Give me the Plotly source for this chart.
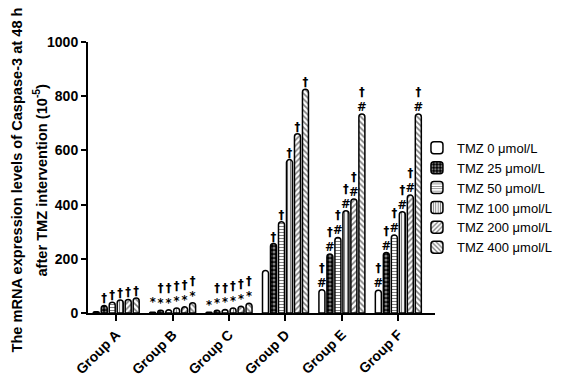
import plotly.graph_objects as go

groups = ["Group A", "Group B", "Group C", "Group D", "Group E", "Group F"]
series_names = ["TMZ 0 μmol/L", "TMZ 25 μmol/L", "TMZ 50 μmol/L",
                "TMZ 100 μmol/L", "TMZ 200 μmol/L", "TMZ 400 μmol/L"]

# values per dose (series), across groups A..F
tmz0 = [5, 3, 3, 157, 86, 84]
tmz25 = [28, 10, 10, 256, 218, 223]
tmz50 = [40, 12, 13, 337, 279, 288]
tmz100 = [48, 18, 18, 566, 377, 374]
tmz200 = [50, 23, 25, 661, 421, 435]
tmz400 = [55, 38, 36, 826, 734, 734]

# significance marks above each bar, per series across groups
marks0 = ["", "*", "*", "", "†<br>#", "†<br>#"]
marks25 = ["†", "†<br>*", "†<br>*", "†", "†<br>#", "†<br>#"]
marks50 = ["†", "†<br>*", "†<br>*", "†", "†<br>#", "†<br>#"]
marks100 = ["†", "†<br>*", "†<br>*", "†", "†<br>#", "†<br>#"]
marks200 = ["†", "†<br>*", "†<br>*", "†", "†<br>#", "†<br>#"]
marks400 = ["†", "†<br>*", "†<br>*", "†", "†<br>#", "†<br>#"]

yticks = [0, 200, 400, 600, 800, 1000]

values = [tmz0, tmz25, tmz50, tmz100, tmz200, tmz400]
marks = [marks0, marks25, marks50, marks100, marks200, marks400]

patterns = [
    dict(shape="", fgcolor="black", bgcolor="white"),
    dict(shape=".", fgcolor="white", bgcolor="black", size=4, solidity=0.45),
    dict(shape="-", fgcolor="black", bgcolor="white", size=3, solidity=0.35),
    dict(shape="|", fgcolor="black", bgcolor="white", size=3, solidity=0.4),
    dict(shape="/", fgcolor="black", bgcolor="white", size=4, solidity=0.4),
    dict(shape="\\", fgcolor="black", bgcolor="white", size=4, solidity=0.4),
]

FONT = "Liberation Sans, Arial, sans-serif"
markfont = dict(family="DejaVu Sans, sans-serif", size=11.5, color="#000000", weight="bold")

fig = go.Figure()
for name, vals, mk, pat in zip(series_names, values, marks, patterns):
    fig.add_trace(go.Bar(
        x=groups, y=vals, name=name,
        marker=dict(color="white", line=dict(color="black", width=1.5), pattern=pat),
        text=mk, textposition="outside", textangle=0, constraintext="none",
        textfont=markfont, outsidetextfont=markfont,
        cliponaxis=False,
    ))

fig.update_layout(
    width=561, height=381,
    barmode="group", bargap=0.15, bargroupgap=0.25, barcornerradius=3,
    paper_bgcolor="white", plot_bgcolor="white",
    margin=dict(l=80, r=133, t=34, b=59),
    font=dict(family=FONT, color="black"),
    showlegend=True,
    legend=dict(x=0.948, xanchor="left", y=0.665, yanchor="top",
                font=dict(family=FONT, size=13, color="black"),
                bgcolor="rgba(0,0,0,0)"),
)
fig.update_xaxes(
    range=[-0.5, 5.65], showline=True, linecolor="black", linewidth=2,
    ticks="outside", ticklen=6, tickwidth=2, tickcolor="black",
    tickangle=-45, tickfont=dict(family=FONT, size=14, color="black", weight="bold"),
    showgrid=False, zeroline=False,
)
fig.update_yaxes(
    range=[0, 1000], tickvals=yticks, showline=True, linecolor="black", linewidth=2,
    ticks="outside", ticklen=5, tickwidth=2, tickcolor="black",
    tickfont=dict(family=FONT, size=14, color="black", weight="bold"),
    showgrid=False, zeroline=False,
)

fig.add_annotation(
    text="<b>The mRNA expression levels of Caspase-3 at 48 h</b>",
    xref="paper", yref="paper", x=0, y=0.5, xanchor="center", yanchor="middle",
    xshift=-72, yshift=-3, textangle=-90, showarrow=False,
    font=dict(family=FONT, size=14.6, color="black"),
)
fig.add_annotation(
    text="<b>after TMZ intervention (10<sup>-5</sup>)</b>",
    xref="paper", yref="paper", x=0, y=0.5, xanchor="center", yanchor="middle",
    xshift=-48, yshift=-3, textangle=-90, showarrow=False,
    font=dict(family=FONT, size=14.6, color="black"),
)

fig.write_html("out.html")
